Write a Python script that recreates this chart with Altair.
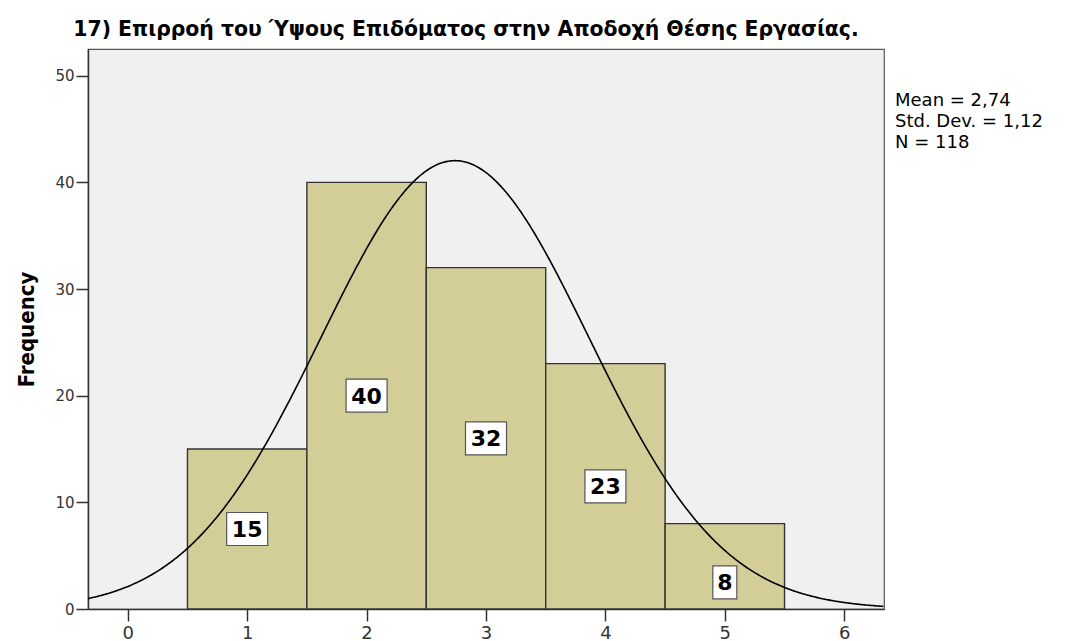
import altair as alt
import pandas as pd

# ---- data ----
bins = [1, 2, 3, 4, 5]
counts = [15, 40, 32, 23, 8]
mean_val = 2.74
sd_val = 1.12
n_val = 118
x_ticks = [0, 1, 2, 3, 4, 5, 6]
y_ticks = [0, 10, 20, 30, 40, 50]
title_text = "17) Επιρροή του Ύψους Επιδόματος στην Αποδοχή Θέσης Εργασίας."
stats_lines = [
    "Mean = " + f"{mean_val:.2f}".replace(".", ","),
    "Std. Dev. = " + f"{sd_val:.2f}".replace(".", ","),
    "N = " + str(n_val),
]

df = pd.DataFrame({"value": bins, "count": counts})

x_dom = [-0.333, 6.333]
x_scale = alt.Scale(domain=x_dom, nice=False, zero=False)
y_scale = alt.Scale(domain=[0, 52.5], nice=False)

x_axis = alt.Axis(values=x_ticks, format="d", title=None, grid=False,
                  tickSize=12, tickWidth=1.5, tickColor="#333",
                  domainColor="#333", domainWidth=1.5,
                  labelFont="DejaVu Sans", labelFontSize=18, labelColor="#333",
                  labelPadding=3)
y_axis = alt.Axis(values=y_ticks, format="d", title="Frequency", grid=False,
                  tickSize=12, tickWidth=1.5, tickColor="#333",
                  domainColor="#333", domainWidth=1.5,
                  labelFont="DejaVu Sans", labelFontSize=15, labelColor="#333",
                  labelPadding=2,
                  titleFont="Liberation Sans Narrow, Arial Narrow, DejaVu Sans Condensed, Liberation Sans",
                  titleFontSize=22, titleFontWeight="bold", titleColor="black",
                  titleAngle=270, titleX=-55, titleY=280, titleAlign="center",
                  titleBaseline="alphabetic")

base = alt.Chart(df).transform_calculate(
    x0="datum.value - 0.5",
    x1="datum.value + 0.5",
    ylab="min(datum.count / 2, datum.count - 5.5)",
)

bars = base.mark_rect(fill="#d3ce97", stroke="#333", strokeWidth=1.4).encode(
    x=alt.X("x0:Q", scale=x_scale, axis=x_axis),
    x2="x1:Q",
    y=alt.Y("count:Q", scale=y_scale, axis=y_axis),
    y2=alt.datum(0),
)

curve = alt.Chart(alt.sequence(start=x_dom[0], stop=x_dom[1] + 0.001, step=0.01, as_="x")).transform_calculate(
    freq=f"{n_val} * exp(-0.5 * pow((datum.x - {mean_val}) / {sd_val}, 2)) / ({sd_val} * sqrt(2 * PI))"
).mark_line(color="black", strokeWidth=1.6).encode(
    x=alt.X("x:Q", scale=x_scale, axis=x_axis),
    y=alt.Y("freq:Q", scale=y_scale, axis=y_axis),
)

box_wide = "M-1,-0.805L1,-0.805L1,0.805L-1,0.805Z"
box_narrow = "M-0.585,-0.805L0.585,-0.805L0.585,0.805L-0.585,0.805Z"

boxes2 = base.transform_filter("datum.count >= 10").mark_point(
    shape=box_wide, size=1681, filled=True, fill="white", stroke="#555",
    strokeWidth=1.2, opacity=1
).encode(
    x=alt.X("value:Q", scale=x_scale, axis=x_axis),
    y=alt.Y("ylab:Q", scale=y_scale, axis=y_axis),
)
boxes1 = base.transform_filter("datum.count < 10").mark_point(
    shape=box_narrow, size=1681, filled=True, fill="white", stroke="#555",
    strokeWidth=1.2, opacity=1
).encode(
    x=alt.X("value:Q", scale=x_scale, axis=x_axis),
    y=alt.Y("ylab:Q", scale=y_scale, axis=y_axis),
)

labels = base.mark_text(font="DejaVu Sans", fontSize=22, fontWeight="bold",
                        color="black", baseline="middle", align="center", dy=1).encode(
    x=alt.X("value:Q", scale=x_scale, axis=x_axis),
    y=alt.Y("ylab:Q", scale=y_scale, axis=y_axis),
    text=alt.Text("count:Q"),
)

stats = alt.Chart(pd.DataFrame({"k": [0]})).mark_text(
    font="DejaVu Sans", fontSize=18, color="black", align="left",
    baseline="alphabetic", lineHeight=21
).encode(
    x=alt.value(807),
    y=alt.value(57),
    text=alt.value(stats_lines),
)

chart = alt.layer(bars, curve, boxes2, boxes1, labels, stats).properties(
    width=796,
    height=560,
    title=alt.TitleParams(title_text, font="DejaVu Sans", fontSize=20.4,
                          fontWeight="bold", color="black", anchor="middle",
                          frame="group", baseline="alphabetic", offset=14,
                          dx=-20, dy=21),
    autosize=alt.AutoSizeParams(type="none"),
    padding={"left": 80, "top": 41, "right": 196, "bottom": 32},
).configure_view(fill="#f0f0f0", stroke="#555", strokeWidth=1.2)

chart.save("out.html", embed_options={"renderer": "svg", "actions": False})
